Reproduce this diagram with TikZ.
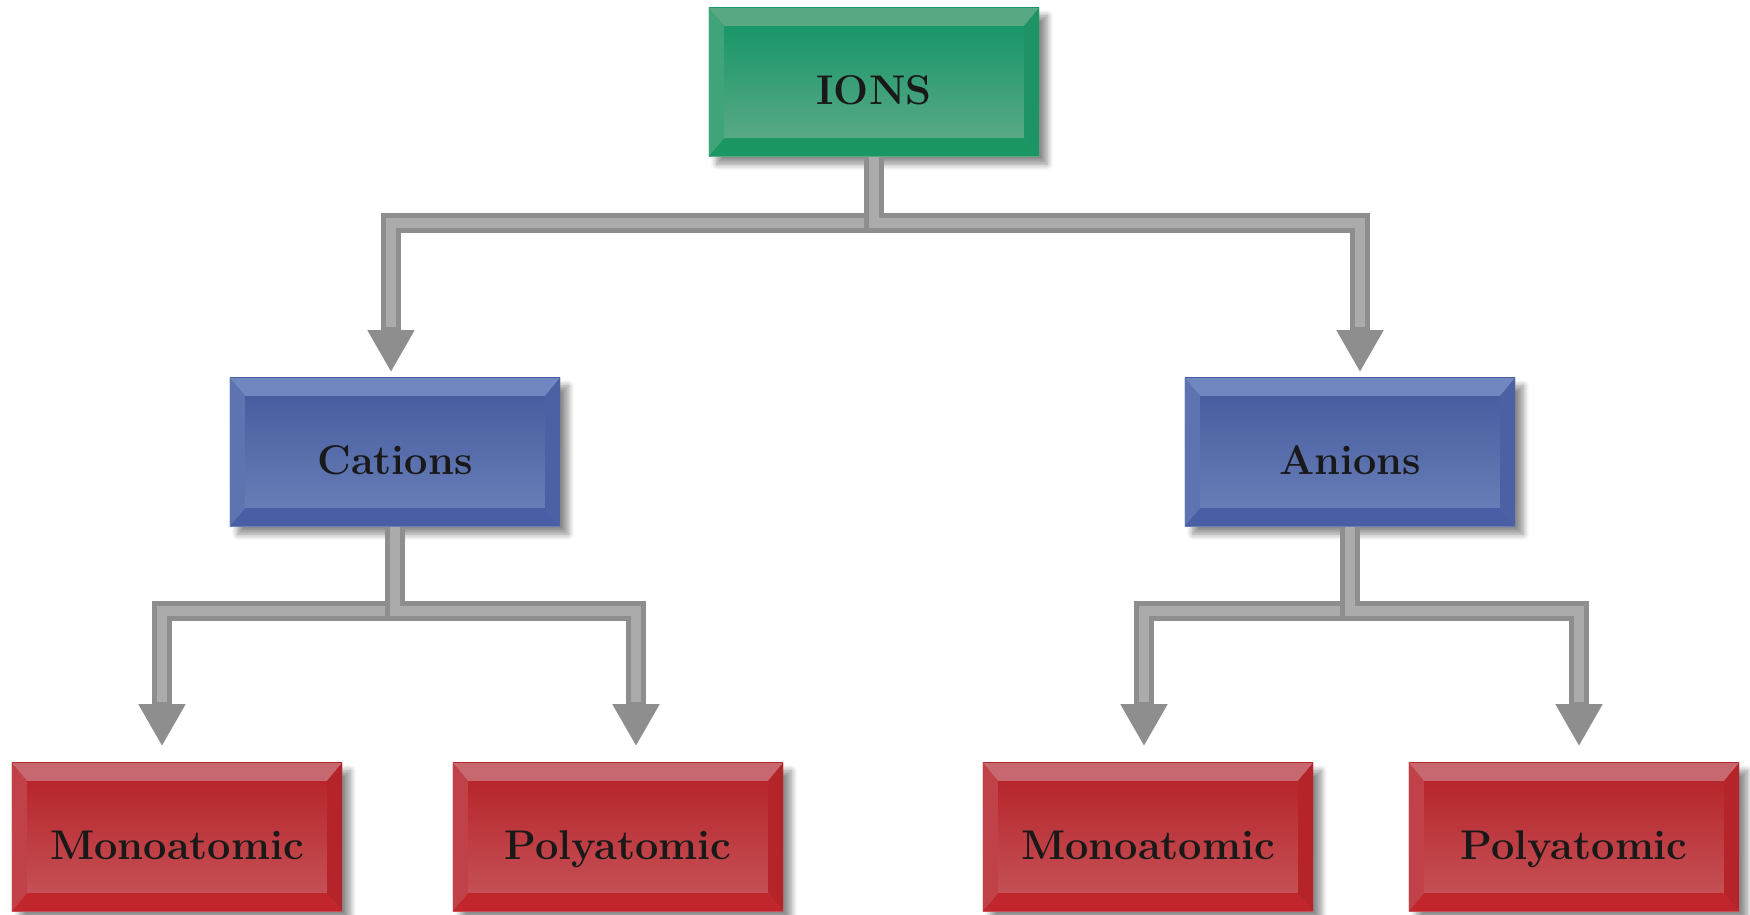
\documentclass[tikz,border=0pt]{standalone}
\usetikzlibrary{arrows.meta,shadows.blur}

\definecolor{ionsmain}{HTML}{0F9464}
\definecolor{ionslow}{HTML}{62AB8A}
\definecolor{ionsbtop}{HTML}{58A983}
\definecolor{ionsbbot}{HTML}{1A9762}
\definecolor{ionsbleft}{HTML}{3FA479}
\definecolor{ionsbright}{HTML}{1E9366}
\definecolor{catmain}{HTML}{44589C}
\definecolor{catlow}{HTML}{6B83BB}
\definecolor{catbtop}{HTML}{7088BF}
\definecolor{catbbot}{HTML}{4A5EA6}
\definecolor{catbleft}{HTML}{5D74B0}
\definecolor{catbright}{HTML}{4B61A3}
\definecolor{polymain}{HTML}{B41F25}
\definecolor{polylow}{HTML}{C7575C}
\definecolor{polybtop}{HTML}{C6686D}
\definecolor{polybbot}{HTML}{C1262C}
\definecolor{polybleft}{HTML}{C04248}
\definecolor{polybright}{HTML}{B52429}
\definecolor{pipegray}{HTML}{8E8E8E}
\definecolor{pipelight}{HTML}{ABABAB}

\begin{document}
\begin{tikzpicture}[
    x=0.01cm, y=-0.01cm,
    box/.style={rectangle, minimum width=3.3cm, minimum height=1.48cm, inner sep=0pt,
      text height=0.5cm, text depth=0.06cm,
      font=\fontsize{11.8}{14}\selectfont\bfseries, text=black!90,
      blur shadow={shadow xshift=0.08cm, shadow yshift=-0.08cm, shadow blur steps=6, shadow opacity=45}},
    bevel/.style n args={4}{path picture={
      \fill[#1] (path picture bounding box.north west) -- (path picture bounding box.north east)
        -- ([shift={(-0.15cm,-0.18cm)}]path picture bounding box.north east)
        -- ([shift={(0.15cm,-0.18cm)}]path picture bounding box.north west) -- cycle;
      \fill[#2] (path picture bounding box.south west) -- (path picture bounding box.south east)
        -- ([shift={(-0.15cm,0.18cm)}]path picture bounding box.south east)
        -- ([shift={(0.15cm,0.18cm)}]path picture bounding box.south west) -- cycle;
      \fill[#3] (path picture bounding box.north west) -- ([shift={(0.15cm,-0.18cm)}]path picture bounding box.north west)
        -- ([shift={(0.15cm,0.18cm)}]path picture bounding box.south west) -- (path picture bounding box.south west) -- cycle;
      \fill[#4] (path picture bounding box.north east) -- ([shift={(-0.15cm,-0.18cm)}]path picture bounding box.north east)
        -- ([shift={(-0.15cm,0.18cm)}]path picture bounding box.south east) -- (path picture bounding box.south east) -- cycle;
    }},
    ionbox/.style={box, top color=ionsmain, bottom color=ionslow, bevel={ionsbtop}{ionsbbot}{ionsbleft}{ionsbright}},
    chargebox/.style={box, top color=catmain, bottom color=catlow, bevel={catbtop}{catbbot}{catbleft}{catbright}},
    kindbox/.style={box, top color=polymain, bottom color=polylow, bevel={polybtop}{polybbot}{polybleft}{polybright}},
    pipe/.style={draw=pipegray, line width=0.2cm, -{Triangle[width=0.44cm,length=0.42cm]}},
    pipehi/.style={draw=pipelight, line width=0.1cm}
]
\useasboundingbox (0,0) rectangle (1750,914);

%  -- boxes --
\node[ionbox]    (ions)    at (874, 82)  {IONS};
\node[chargebox] (cat)     at (395, 452) {Cations};
\node[chargebox] (an)      at (1350, 452) {Anions};
\node[kindbox]   (catmono) at (177, 837) {Monoatomic};
\node[kindbox]   (catpoly) at (618, 837) {Polyatomic};
\node[kindbox]   (anmono)  at (1148, 837) {Monoatomic};
\node[kindbox]   (anpoly)  at (1574, 837) {Polyatomic};

%  -- pipes, first level --
\foreach \to/\dx in {cat/-0.04cm, an/0.1cm} {
  \draw[pipe, shorten >=0.05cm] (ions.south) -- ++(0,66) -| ([xshift=\dx]\to.north);
  \draw[pipehi, shorten >=0.5cm] (ions.south) -- ++(0,66) -| ([xshift=\dx]\to.north);
}

%  -- pipes, second level --
\foreach \from/\to/\dx in {cat/catmono/-0.15cm, cat/catpoly/0.18cm, an/anmono/-0.04cm, an/anpoly/0.05cm} {
  \draw[pipe, shorten >=0.16cm] (\from.south) -- ++(0,84) -| ([xshift=\dx]\to.north);
  \draw[pipehi, shorten >=0.6cm] (\from.south) -- ++(0,84) -| ([xshift=\dx]\to.north);
}

\end{tikzpicture}
\end{document}
